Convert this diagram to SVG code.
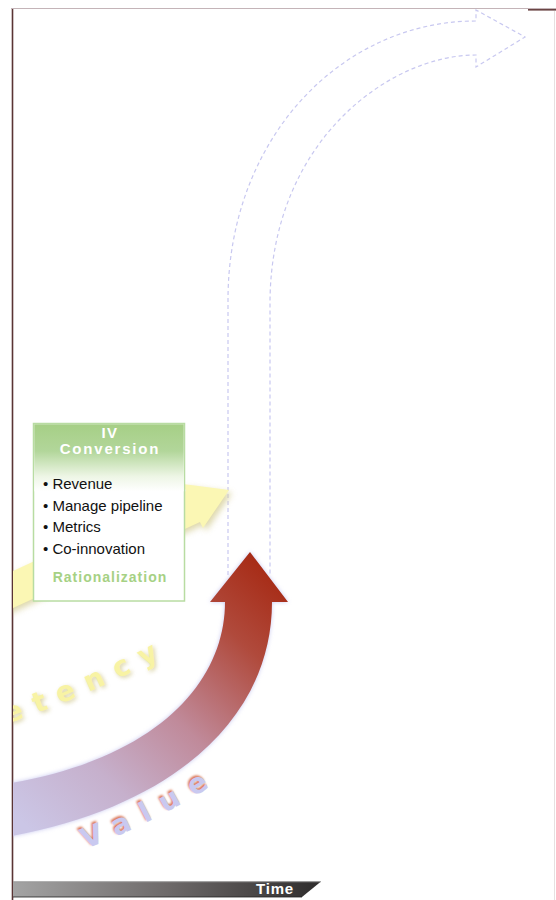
<svg xmlns="http://www.w3.org/2000/svg" width="556" height="900" viewBox="0 0 556 900">
<style>
.dash{fill:none;stroke:#c8c8f0;stroke-width:1.2;stroke-dasharray:4 3}
.bul{font-family:"Liberation Sans",Arial,sans-serif;font-size:15px;fill:#111}
.hdr{font-family:"Liberation Sans",Arial,sans-serif;font-weight:bold;fill:#fff;text-anchor:middle}
.big{font-family:"DejaVu Sans",sans-serif;font-weight:bold;font-size:28px}
</style>
<defs>
<clipPath id="area"><rect x="13" y="9" width="543" height="891"/></clipPath>
<filter id="blur3" x="-20%" y="-20%" width="140%" height="140%"><feGaussianBlur stdDeviation="3"/></filter>
<filter id="blur2" x="-20%" y="-20%" width="140%" height="140%"><feGaussianBlur stdDeviation="2"/></filter>
<filter id="blur1" x="-20%" y="-20%" width="140%" height="140%"><feGaussianBlur stdDeviation="0.8"/></filter>
<linearGradient id="redg" gradientUnits="userSpaceOnUse" x1="275" y1="565" x2="30" y2="830">
<stop offset="0" stop-color="#a62812"/>
<stop offset="0.22" stop-color="#b04a3c"/>
<stop offset="0.5" stop-color="#c08a9a"/>
<stop offset="0.75" stop-color="#c6b0cc"/>
<stop offset="1" stop-color="#cbc6e6"/>
</linearGradient>
<linearGradient id="hdrg" x1="0" y1="0" x2="0" y2="1">
<stop offset="0" stop-color="#a6cf86"/>
<stop offset="0.4" stop-color="#b2d69a"/>
<stop offset="0.78" stop-color="#eef6e6"/>
<stop offset="1" stop-color="#ffffff"/>
</linearGradient>
<linearGradient id="timeg" x1="0" y1="0" x2="1" y2="0">
<stop offset="0" stop-color="#a4a4a4"/>
<stop offset="0.5" stop-color="#6e6a6a"/>
<stop offset="1" stop-color="#2e2c2c"/>
</linearGradient>
<path id="arcComp" d="M9,725 Q92,697 190,645"/>
<path id="arcVal" d="M84,847 Q152,823 236,768"/>
</defs>

<rect x="0" y="0" width="556" height="900" fill="#ffffff"/>

<g id="frame">
<line x1="11" y1="8.5" x2="556" y2="8.5" stroke="#c4b4b8" stroke-width="1"/>
<line x1="12.5" y1="9" x2="12.5" y2="900" stroke="#5a3434" stroke-width="1.6"/>
<line x1="528" y1="9.8" x2="556" y2="9.8" stroke="#6a4444" stroke-width="1.6"/>
<line x1="554.5" y1="11" x2="554.5" y2="900" stroke="#e6e0e0" stroke-width="1"/>
</g>

<g clip-path="url(#area)">
<g id="connectors">
<g id="future-arrow">
<path class="dash" d="M228,575 L228,300 C228,140 340,21 476,21 L476,10 L525,37 L476,67 L476,55 C390,55 272,140 270,300 L270,575"/>
</g>
<g id="competency-arrow">
<polygon points="0,577 186,491 183,484 229,490 203,528 200,522 0,614" fill="#d6cf98" opacity="0.8" filter="url(#blur3)" transform="translate(3,3)"/>
<polygon points="0,577 186,491 183,484 229,490 203,528 200,522 0,614" fill="#fbf7b4"/>
</g>
<g id="value-arrow">
<path d="M250,552 L288,602 L272,602 C272,720 170,810 0,838 L0,785 C160,760 225,680 225,602 L210,602 Z" fill="#c8c8f0" filter="url(#blur2)"/>
<path d="M250,552 L288,602 L272,602 C272,720 170,810 0,838 L0,785 C160,760 225,680 225,602 L210,602 Z" fill="url(#redg)"/>
</g>
</g>

<g id="label-competency">
<text class="big" fill="#cfc68a" opacity="0.8" filter="url(#blur2)" letter-spacing="12"><textPath href="#arcComp">etency</textPath></text>
<text class="big" fill="#f8f3a4" letter-spacing="12" transform="translate(-1.5,-1.5)"><textPath href="#arcComp">etency</textPath></text>
</g>

<g id="label-value">
<text class="big" fill="#d8704e" filter="url(#blur1)" letter-spacing="13"><textPath href="#arcVal">Value</textPath></text>
<text class="big" fill="#c9c9f0" letter-spacing="13" transform="translate(1.5,1.5)"><textPath href="#arcVal">Value</textPath></text>
</g>
</g>

<g id="conversion">
<rect x="33.5" y="423.5" width="151" height="177.5" fill="#ffffff" stroke="#b8dca2" stroke-width="1.5"/>
<rect x="34.3" y="424.3" width="149.4" height="67" fill="url(#hdrg)"/>
<text class="hdr" x="110" y="438" font-size="15" letter-spacing="1.5">IV</text>
<text class="hdr" x="110" y="454" font-size="15" letter-spacing="1.8">Conversion</text>
<text class="bul" x="43" y="489">• Revenue</text>
<text class="bul" x="43" y="510.5">• Manage pipeline</text>
<text class="bul" x="43" y="532">• Metrics</text>
<text class="bul" x="43" y="553.5">• Co-innovation</text>
<text x="110" y="582" font-family="Liberation Sans, Arial, sans-serif" font-weight="bold" font-size="14" letter-spacing="1" fill="#a6d184" text-anchor="middle">Rationalization</text>
</g>

<g id="time-axis">
<polygon points="13,881.5 321,881.5 302,897 13,897" fill="url(#timeg)"/>
<line x1="13" y1="881.8" x2="321" y2="881.8" stroke="#9a9a9a" stroke-width="0.8"/>
<line x1="13" y1="897" x2="302" y2="897" stroke="#222" stroke-width="0.8"/>
<text x="294" y="894" font-family="Liberation Sans, Arial, sans-serif" font-weight="bold" font-size="15" letter-spacing="0.8" fill="#ffffff" text-anchor="end">Time</text>
</g>
</svg>
